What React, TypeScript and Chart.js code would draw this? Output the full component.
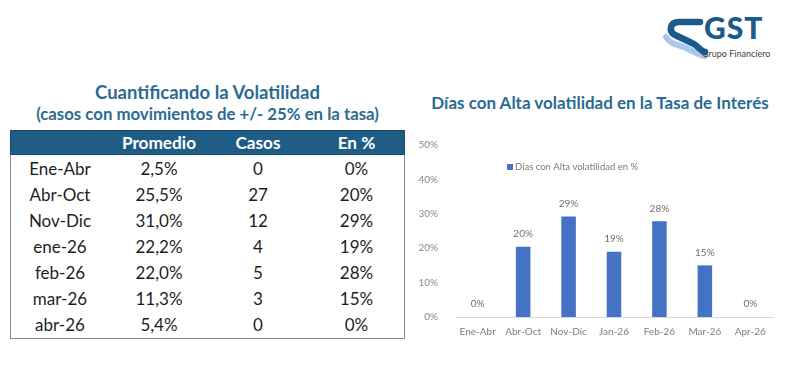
import React, { useEffect, useRef } from "react";
import { Chart, registerables } from "chart.js";

Chart.register(...registerables);

// ---- Chart data ----
const categories = ["Ene-Abr", "Abr-Oct", "Nov-Dic", "Jan-26", "Feb-26", "Mar-26", "Apr-26"];
const pctValues = [0, 0.204, 0.292, 0.19, 0.278, 0.15, 0];
const yTickLabels = ["0%", "10%", "20%", "30%", "40%", "50%"];
const seriesLabel = "Días con Alta volatilidad en %";
const chartTitle = "Días con Alta volatilidad en la Tasa de Interés";

// ---- Table data ----
const tableTitle1 = "Cuantificando la Volatilidad";
const tableTitle2 = "(casos con movimientos de +/- 25% en la tasa)";
const tableHeaders = ["", "Promedio", "Casos", "En %"];
const periods = ["Ene-Abr", "Abr-Oct", "Nov-Dic", "ene-26", "feb-26", "mar-26", "abr-26"];
const promedio = ["2,5%", "25,5%", "31,0%", "22,2%", "22,0%", "11,3%", "5,4%"];
const casos = ["0", "27", "12", "4", "5", "3", "0"];
const enPct = ["0%", "20%", "29%", "19%", "28%", "15%", "0%"];

const FONT = "Lato, 'Open Sans', sans-serif";
const TITLE_COLOR = "#2B6B92";
const HEADER_BG = "#1F5D86";
const BAR_COLOR = "#4472C4";

const colLeft = [10, 110, 208, 308];
const colWidth = [100, 98, 100, 97];

const dataLabelPlugin = {
  id: "dataLabels",
  afterDatasetsDraw(chart: any) {
    const ctx = chart.ctx;
    const meta = chart.getDatasetMeta(0);
    const ds = chart.data.datasets[0];
    ctx.save();
    ctx.font = `10px ${FONT}`;
    ctx.fillStyle = "#6f6f6f";
    ctx.textAlign = "center";
    ctx.textBaseline = "middle";
    meta.data.forEach((bar: any, i: number) => {
      const v = ds.data[i] as number;
      ctx.fillText(Math.round(v * 100) + "%", bar.x, bar.y - 13);
    });
    ctx.restore();
  },
};

const legendPlugin = {
  id: "innerLegend",
  afterDraw(chart: any) {
    const ctx = chart.ctx;
    const ds = chart.data.datasets[0];
    const x = chart.chartArea.left + 52;
    const y = chart.chartArea.top + 22;
    ctx.save();
    ctx.fillStyle = ds.backgroundColor;
    ctx.fillRect(x, y - 3, 6, 6);
    ctx.font = `9.5px ${FONT}`;
    ctx.fillStyle = "#7a7a7a";
    ctx.textAlign = "left";
    ctx.textBaseline = "middle";
    ctx.fillText(ds.label, x + 8, y);
    ctx.restore();
  },
};

function BarChart() {
  const ref = useRef<HTMLCanvasElement>(null);
  useEffect(() => {
    if (!ref.current) return;
    const chart = new Chart(ref.current, {
      type: "bar",
      data: {
        labels: categories,
        datasets: [
          {
            label: seriesLabel,
            data: pctValues,
            backgroundColor: BAR_COLOR,
            categoryPercentage: 1,
            barPercentage: 0.32,
          },
        ],
      },
      options: {
        animation: false,
        responsive: false,
        maintainAspectRatio: false,
        layout: { padding: { top: 9, right: 27, left: 0, bottom: 0 } },
        plugins: {
          legend: { display: false },
          title: { display: false },
          tooltip: { enabled: false },
        },
        scales: {
          x: {
            grid: { display: false, drawTicks: false },
            border: { display: true, color: "#d9d9d9", width: 1 },
            ticks: {
              color: "#7f7f7f",
              font: { family: FONT, size: 10 },
              padding: 9,
              maxRotation: 0,
            },
            afterFit: (s: any) => {
              s.height = 28;
            },
          },
          y: {
            min: 0,
            max: 0.5,
            grid: { display: false, drawTicks: false },
            border: { display: false },
            ticks: {
              stepSize: 0.1,
              color: "#8a8a8a",
              font: { family: FONT, size: 10 },
              padding: 17,
              callback: (_v: any, i: number) => yTickLabels[i],
            },
            afterFit: (s: any) => {
              s.width = 45;
            },
          },
        },
      },
      plugins: [dataLabelPlugin, legendPlugin],
    });
    return () => chart.destroy();
  }, []);
  return (
    <canvas
      ref={ref}
      width={390}
      height={223}
      style={{ position: "absolute", left: 410, top: 122, width: 390, height: 223 }}
    />
  );
}

function Logo() {
  return (
    <div style={{ position: "absolute", left: 660, top: 12, width: 130, height: 50 }}>
      <svg width="46" height="44" style={{ position: "absolute", left: 3, top: 3 }}>
        <path d="M3 22 C8 31 18 29 27 35 C33 38 37 40 42 41" stroke="#A9C9E8" strokeWidth="6" fill="none" strokeLinecap="round" />
        <path d="M37 7 H16 C7 7 5 16 12 20 L29 28 C36 31 37 36 42 37" stroke="#1B5A8C" strokeWidth="6.5" fill="none" strokeLinecap="round" strokeLinejoin="round" />
      </svg>
      <div style={{ position: "absolute", left: 44, top: -1, fontFamily: FONT, fontWeight: 900, fontSize: 30, color: "#1B5A8C", letterSpacing: 1, lineHeight: "32px" }}>
        GST
      </div>
      <div style={{ position: "absolute", left: 42, top: 37, fontFamily: FONT, fontSize: 9, color: "#444", whiteSpace: "nowrap", lineHeight: "10px" }}>
        Grupo Financiero
      </div>
    </div>
  );
}

function Table() {
  const rows = periods.map((p, i) => [p, promedio[i], casos[i], enPct[i]]);
  return (
    <>
      <div style={{ position: "absolute", left: 0, width: 415, top: 81, textAlign: "center", fontFamily: FONT, fontWeight: 700, fontSize: 18.5, color: TITLE_COLOR, lineHeight: "22px" }}>
        {tableTitle1}
      </div>
      <div style={{ position: "absolute", left: 0, width: 415, top: 103, textAlign: "center", fontFamily: FONT, fontWeight: 700, fontSize: 16.8, color: TITLE_COLOR, lineHeight: "22px", whiteSpace: "nowrap" }}>
        {tableTitle2}
      </div>
      <div style={{ position: "absolute", left: 10, top: 130, width: 395, height: 25, background: HEADER_BG, border: "1px solid #184b6d", boxSizing: "border-box" }} />
      {tableHeaders.map((h, c) => (
        <div key={"h" + c} style={{ position: "absolute", left: colLeft[c], width: colWidth[c], top: 130, height: 25, lineHeight: "25px", textAlign: "center", fontFamily: FONT, fontWeight: 700, fontSize: 17.2, color: "#fff" }}>
          {h}
        </div>
      ))}
      <div style={{ position: "absolute", left: 10, top: 155, width: 395, height: 184, borderLeft: "1.5px solid #8a8a8a", borderRight: "1.5px solid #8a8a8a", borderBottom: "1.5px solid #8a8a8a", boxSizing: "border-box" }} />
      {rows.map((r, ri) =>
        r.map((cell, c) => (
          <div key={ri + "-" + c} style={{ position: "absolute", left: colLeft[c], width: colWidth[c], top: 156 + ri * 26, height: 26, lineHeight: "26px", textAlign: "center", fontFamily: FONT, fontSize: 17, color: "#1e1e1e" }}>
            {cell}
          </div>
        ))
      )}
    </>
  );
}

export default function App() {
  return (
    <div style={{ position: "absolute", left: 0, top: 0, width: 800, height: 369, background: "#fff", overflow: "hidden" }}>
      <Logo />
      <Table />
      <div style={{ position: "absolute", left: 405, width: 390, top: 92, textAlign: "center", fontFamily: FONT, fontWeight: 700, fontSize: 17, color: TITLE_COLOR, lineHeight: "22px", whiteSpace: "nowrap" }}>
        {chartTitle}
      </div>
      <BarChart />
    </div>
  );
}
